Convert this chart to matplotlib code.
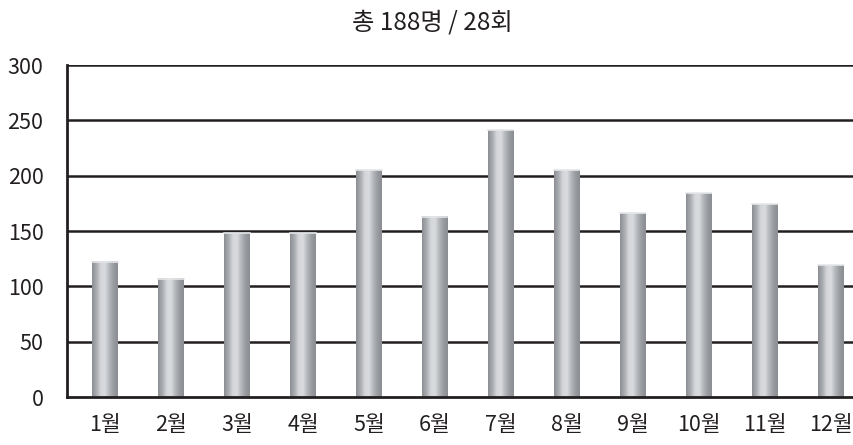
import matplotlib
matplotlib.use("Agg")
import matplotlib.pyplot as plt
import numpy as np
from matplotlib.colors import LinearSegmentedColormap

plt.rcParams["font.family"] = ["Noto Sans CJK KR", "DejaVu Sans"]

months = ["1월", "2월", "3월", "4월", "5월", "6월", "7월", "8월", "9월", "10월", "11월", "12월"]
counts = [122, 107, 148, 148, 205, 163, 241, 205, 166, 184, 174, 119]
y_ticks = [0, 50, 100, 150, 200, 250, 300]
title = "총 188명 / 28회"

# cylinder-like shading across each bar
shade = LinearSegmentedColormap.from_list(
    "cyl", ["#8c8f94", "#a9acb0", "#d3d5d8", "#dadcdf", "#b4b7bb", "#999ca1", "#8a8d92"]
)
grad = np.linspace(0, 1, 64).reshape(1, -1)

fig = plt.figure(figsize=(8.54, 4.45), dpi=100)
ax = fig.add_axes([67 / 854, 48 / 445, 1 - 67 / 854, 332 / 445])

width = 0.38
x = np.arange(len(months))
for xi, val in zip(x, counts):
    ax.imshow(grad, cmap=shade, aspect="auto", interpolation="bilinear",
              extent=(xi - width / 2, xi + width / 2, 0, val), zorder=3)
    ax.plot([xi - width / 2, xi + width / 2], [val, val], color="#e4e6e8", lw=1.2, zorder=4)

for yv in y_ticks[1:]:
    ax.axhline(yv, color="#231f20", lw=1.8, zorder=2)

ax.set_xlim(-0.576, 11.35)
ax.set_ylim(0, 300)
ax.set_xticks(x, months)
ax.set_yticks(y_ticks)
ax.tick_params(axis="both", length=0, labelsize=15.5, colors="#231f20")
ax.tick_params(axis="x", pad=12)
ax.tick_params(axis="y", pad=17)
for s in ["top", "right"]:
    ax.spines[s].set_visible(False)
for s in ["left", "bottom"]:
    ax.spines[s].set_color("#231f20")
    ax.spines[s].set_linewidth(2)
    ax.spines[s].set_zorder(5)

fig.text(0.506, 0.95, title, ha="center", va="center", fontsize=17.5, color="#231f20")

fig.savefig("out.png", dpi=100)
